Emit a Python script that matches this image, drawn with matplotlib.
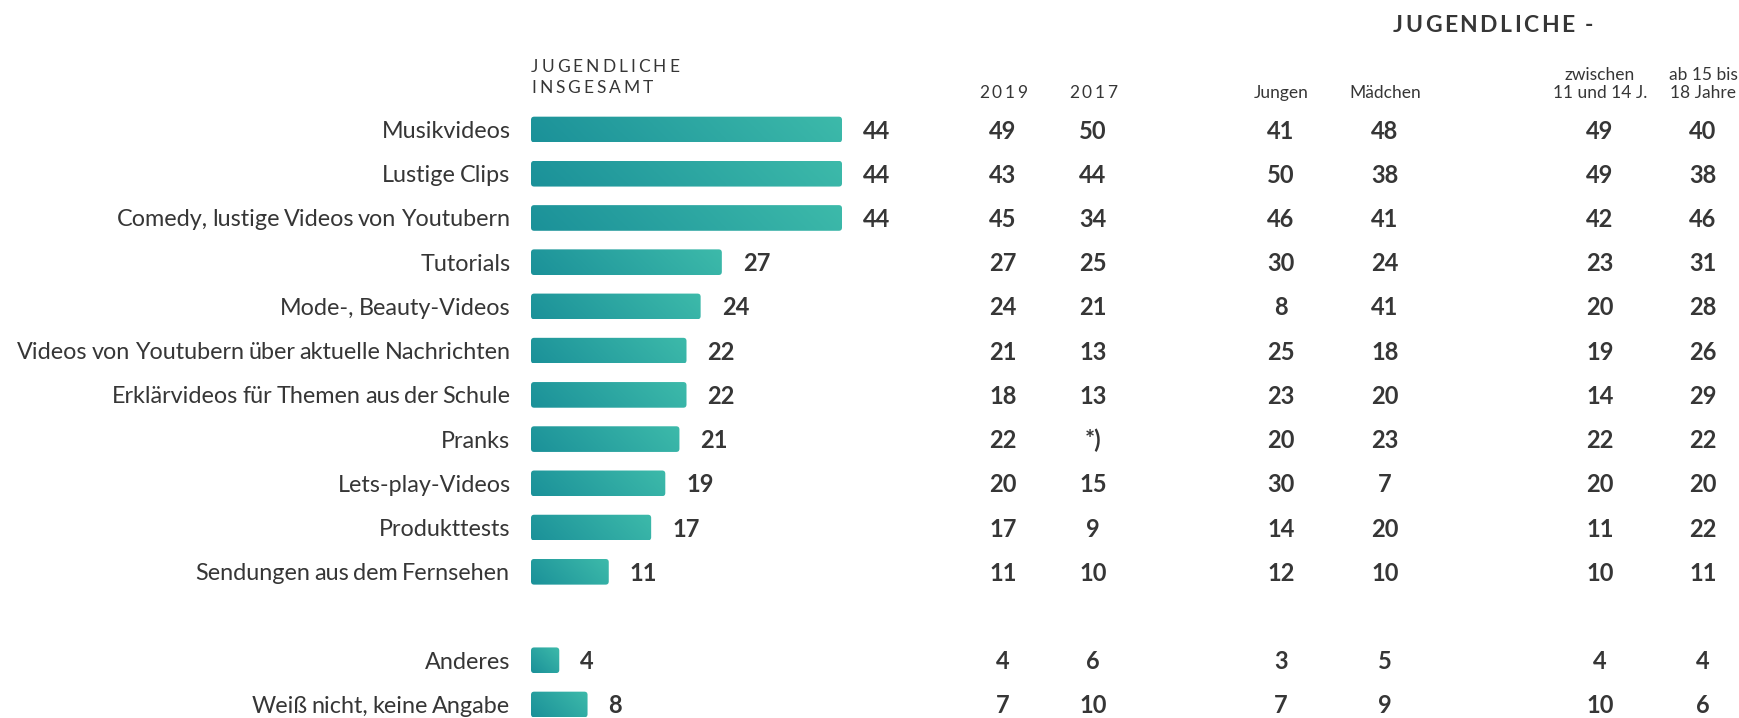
import numpy as np
import matplotlib
matplotlib.use("Agg")
import matplotlib.pyplot as plt
from matplotlib.patches import FancyBboxPatch
from matplotlib.transforms import blended_transform_factory, offset_copy
from matplotlib.font_manager import FontProperties
from matplotlib.textpath import TextToPath
from matplotlib.colors import LinearSegmentedColormap

# ---------------- data ----------------
categories = ["Musikvideos", "Lustige Clips", "Comedy, lustige Videos von Youtubern",
              "Tutorials", "Mode-, Beauty-Videos",
              "Videos von Youtubern über aktuelle Nachrichten",
              "Erklärvideos für Themen aus der Schule", "Pranks", "Lets-play-Videos",
              "Produkttests", "Sendungen aus dem Fernsehen", "Anderes",
              "Weiß nicht, keine Angabe"]
total = [44, 44, 44, 27, 24, 22, 22, 21, 19, 17, 11, 4, 8]
y2019 = ["49", "43", "45", "27", "24", "21", "18", "22", "20", "17", "11", "4", "7"]
y2017 = ["50", "44", "34", "25", "21", "13", "13", "*)", "15", "9", "10", "6", "10"]
jungen = ["41", "50", "46", "30", "8", "25", "23", "20", "30", "14", "12", "3", "7"]
maedchen = ["48", "38", "41", "24", "41", "18", "20", "23", "7", "20", "10", "5", "9"]
age_11_14 = ["49", "49", "42", "23", "20", "19", "14", "22", "20", "11", "10", "4", "10"]
age_15_18 = ["40", "38", "46", "31", "28", "26", "29", "22", "20", "22", "11", "4", "6"]

col_headers = [["2019"], ["2017"], ["Jungen"], ["Mädchen"],
               ["zwischen", "11 und 14 J."], ["ab 15 bis", "18 Jahre"]]
col_values = [y2019, y2017, jungen, maedchen, age_11_14, age_15_18]
left_header = ["JUGENDLICHE", "INSGESAMT"]
group_header = "JUGENDLICHE -"

# ---------------- layout ----------------
W, H, DPI = 1739, 718, 100
fig = plt.figure(figsize=(W / DPI, H / DPI), dpi=DPI)
FONT = "Lato"
TXT = "#363636"

# row positions: one blank row gap before the last two
ypos = list(range(11)) + [12, 13]

row_h = 44.23
top_center = 129.5
bar_x0 = 531
px_per_unit = 311 / 44.0
xmax = 50
ax_left = bar_x0
ax_w = xmax * px_per_unit
ax_top = top_center - 0.5 * row_h
ax_h = 14 * row_h
ax = fig.add_axes([ax_left / W, 1 - (ax_top + ax_h) / H, ax_w / W, ax_h / H])
ax.set_xlim(0, xmax)
ax.set_ylim(13.5, -0.5)
ax.axis("off")

bar_h = 0.58
c0, c1 = "#1b9199", "#3dbaaa"
cmap = LinearSegmentedColormap.from_list("tealgrad", [c0, c1])
aspect = (1 / row_h) / (1 / px_per_unit)

for v, y in zip(total, ypos):
    w_px = v * px_per_unit
    h_px = bar_h * row_h
    nx, ny = max(int(w_px), 2), max(int(h_px), 2)
    xx = np.linspace(0, w_px, nx)[None, :]
    yy = np.linspace(h_px, 0, ny)[:, None]
    t = (xx + yy) / (w_px + h_px)
    patch = FancyBboxPatch((0, y - bar_h / 2), v, bar_h,
                           boxstyle="round,pad=0,rounding_size=%f" % (3.2 / px_per_unit),
                           mutation_aspect=aspect, facecolor="none", edgecolor="none")
    ax.add_patch(patch)
    im = ax.imshow(t, cmap=cmap, vmin=0, vmax=1, extent=(0, v, y + bar_h / 2, y - bar_h / 2),
                   aspect="auto", interpolation="bilinear", origin="upper")
    im.set_clip_path(patch)
    ax.annotate(str(v), xy=(v, y), xytext=(21 * 72 / DPI, -9 * 72 / DPI),
                textcoords="offset points", ha="left", va="baseline",
                fontsize=17, fontweight="bold", family=FONT, color=TXT)

ax.set_xlim(0, xmax)
ax.set_ylim(13.5, -0.5)

ttp = TextToPath()


def text_w(s, fp):
    w, _, _ = ttp.get_text_width_height_descent(s + "|", fp, ismath=False)
    w2, _, _ = ttp.get_text_width_height_descent("|", fp, ismath=False)
    return (w - w2) * DPI / 72.0


# category labels and column numbers: x in figure pixels, y in data rows
bt = blended_transform_factory(fig.transFigure, ax.transData)
lab_tr = offset_copy(bt, fig=fig, x=0, y=-8.5, units="dots")
num_tr = offset_copy(bt, fig=fig, x=0, y=-9, units="dots")
lab_fp = FontProperties(family=FONT, size=16.8)
space_w = text_w(" ", lab_fp) - 1.5
for name, y in zip(categories, ypos):
    words = name.split(" ")
    widths = [text_w(wd, lab_fp) for wd in words]
    tot = sum(widths) + space_w * (len(words) - 1)
    x = 510 - tot
    for wd, ww in zip(words, widths):
        fig.text(x / W, y, wd, transform=lab_tr, ha="left", va="baseline",
                 fontproperties=lab_fp, color=TXT)
        x += ww + space_w

col_x = [1003, 1093, 1281, 1385, 1600, 1703]
for cx, vals in zip(col_x, col_values):
    for s, y in zip(vals, ypos):
        fig.text(cx / W, y, s, transform=num_tr, ha="center", va="baseline",
                 fontsize=17, fontweight="bold", family=FONT, color=TXT)

# ---------------- headers ----------------


def spaced(x_px, base_px, s, size, weight="normal", spacing=None, target=None, ha="left"):
    fp = FontProperties(family=FONT, size=size, weight=weight)
    nat = text_w(s, fp)
    if target is not None:
        spacing = (target - nat) / (len(s) - 1)
    total_w = nat + spacing * (len(s) - 1)
    if ha == "center":
        start = x_px - total_w / 2
    elif ha == "right":
        start = x_px - total_w
    else:
        start = x_px
    for i, ch in enumerate(s):
        xi = start + text_w(s[:i], fp) + i * spacing if i else start
        fig.text(xi / W, 1 - base_px / H, ch, fontproperties=fp, color=TXT,
                 ha="left", va="baseline")


spaced(531, 72, left_header[0], 12.5, target=148)
spaced(531, 93, left_header[1], 12.5, target=122)
spaced(1493, 32, group_header, 16.5, weight="bold", target=200, ha="center")

for cx, lines in zip(col_x, col_headers):
    if lines[0].isdigit():
        spaced(cx, 98, lines[0], 12.5, target=48, ha="center")
    else:
        bases = [98] if len(lines) == 1 else [80, 98]
        for ln, b in zip(lines, bases):
            fig.text(cx / W, 1 - b / H, ln, ha="center", va="baseline",
                     fontsize=12.5, family=FONT, color=TXT)

fig.savefig("out.png", dpi=DPI)
